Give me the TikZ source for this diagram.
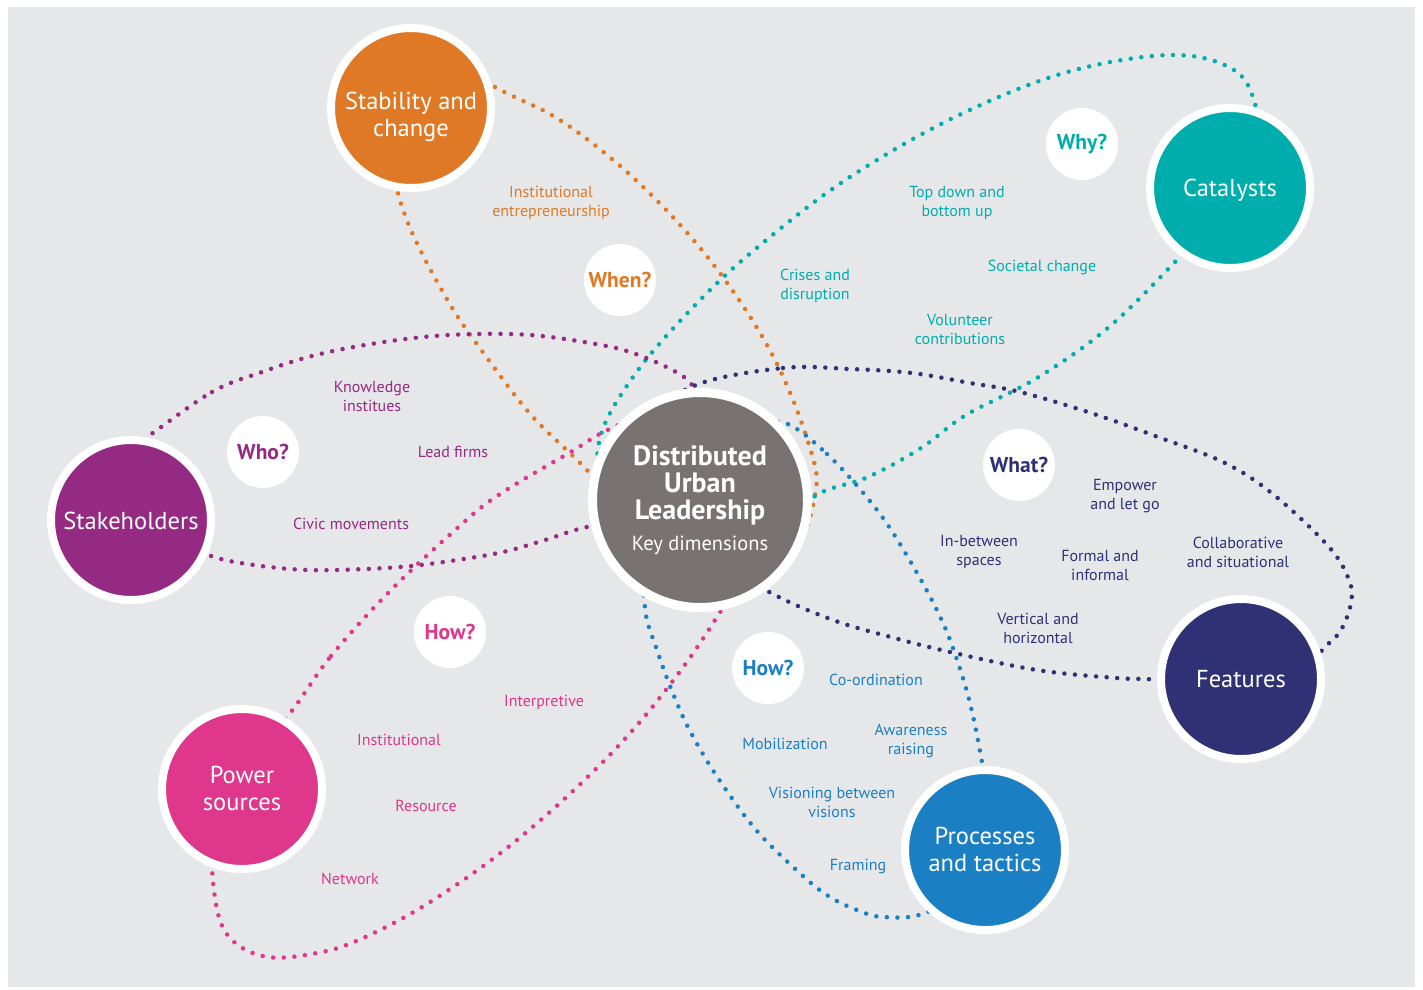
\documentclass[tikz,border=0pt]{standalone}
\usepackage{fontspec}
\setmainfont{PT Sans}
\definecolor{bgG}{HTML}{E6E7E9}
\definecolor{cOr}{HTML}{E07925}
\definecolor{cTe}{HTML}{00ADAD}
\definecolor{cPu}{HTML}{952A82}
\definecolor{cNa}{HTML}{303174}
\definecolor{cPi}{HTML}{DE378B}
\definecolor{cBl}{HTML}{1B7FC3}
\definecolor{cGr}{HTML}{787371}
\begin{document}
\begin{tikzpicture}[x=1pt,y=-1pt,
  dl/.style={line width=4.5pt, line cap=round, dash pattern=on 0pt off 10.6pt},
  big/.style={circle, draw=white, line width=8pt, minimum size=160pt, inner sep=0pt},
  bigtext/.style={text=white, font=\fontsize{24.5}{27}\selectfont, align=center, inner sep=0pt},
  qb/.style={circle, fill=white, minimum size=72pt, inner sep=0pt, font=\bfseries\fontsize{21.5}{24}\selectfont},
  lab/.style={font=\fontsize{16}{19}\selectfont, align=center, inner sep=0pt},
]
\useasboundingbox (0,0) rectangle (1423,989);
\fill[white] (0,0) rectangle (1423,989);
\fill[bgG] (8,7) rectangle (1415,987);

% loops
\draw[dl, cOr] plot[smooth cycle, tension=0.6] coordinates {(430,45) (495,87) (563,122) (640,184) (713,264) (773,356) (810,448) (815,495) (790,555) (720,580) (640,530) (585,468) (532,416) (485,355) (448,301) (408,223) (392,160) (395,90)};
\draw[dl, cTe] plot[smooth cycle, tension=0.6] coordinates {(1256,107) (1234,70) (1171,55) (1064,73) (953,118) (850,177) (770,237) (703,297) (633,377) (598,448) (615,520) (690,565) (770,540) (815,496) (868,477) (921,448) (966,415) (1037,378) (1109,327) (1179,258) (1225,210) (1262,160)};
\draw[dl, cPu] plot[smooth cycle, tension=0.6] coordinates {(147,437) (212,392) (262,372) (312,356) (365,345) (423,337) (476,334) (530,335) (584,342) (630,352) (676,372) (696,390) (720,430) (700,495) (640,520) (587,527) (545,540) (503,552) (457,560) (411,566) (365,569) (308,570) (254,565) (211,556) (165,535) (112,495) (118,455)};
\draw[dl, cNa] plot[smooth cycle, tension=0.6] coordinates {(696,385) (783,368) (850,369) (912,373) (970,383) (1020,392) (1091,413) (1158,437) (1225,463) (1274,495) (1329,547) (1349,580) (1351,603) (1341,630) (1325,647) (1280,690) (1200,690) (1157,680) (1116,678) (1037,670) (950,652) (887,636) (833,620) (773,594) (720,560) (660,480) (655,420)};
\draw[dl, cPi] plot[smooth cycle, tension=0.6] coordinates {(286,718) (331,656) (390,591) (454,531) (497,496) (569,453) (612,428) (670,410) (745,450) (760,540) (715,620) (672,682) (622,742) (561,802) (494,858) (422,907) (363,938) (322,952) (268,957) (230,938) (215,898) (214,830) (240,760)};
\draw[dl, cBl] plot[smooth cycle, tension=0.6] coordinates {(782,422) (827,454) (877,510) (913,566) (943,623) (962,675) (973,716) (982,762) (992,815) (975,880) (925,913) (883,917) (857,910) (830,897) (803,876) (757,831) (718,778) (690,731) (672,691) (657,650) (645,608) (650,555) (700,470) (750,437)};

% main circles
\node[big, fill=cOr] (stab) at (411,108) {};
\node[big, fill=cTe] (cat) at (1230,188) {};
\node[big, fill=cPu] (stake) at (131,520) {};
\node[big, fill=cNa] (feat) at (1241,679) {};
\node[big, fill=cPi] (pow) at (242,789) {};
\node[big, fill=cBl] (proc) at (985,850) {};
\node[bigtext] (stabt) at (411,117) {Stability and\\change};
\node[bigtext] (catt) at (1230,190) {Catalysts};
\node[bigtext] (staket) at (131,521) {Stakeholders};
\node[bigtext] (featt) at (1241,679) {Features};
\node[bigtext] (powt) at (242,788) {Power\\sources};
\node[bigtext] (proct) at (985,849) {Processes\\and tactics};
\node[circle, draw=white, line width=9pt, minimum size=215pt, inner sep=0pt, fill=cGr] (dul) at (700,500) {};
\node[text=white, font=\bfseries\fontsize{28}{27}\selectfont, align=center] (dult) at (700,485) {Distributed\\Urban\\Leadership};
\node[text=white, font=\fontsize{20.5}{22}\selectfont] (dulk) at (700,545) {Key dimensions};

% question bubbles
\node[qb, text=cTe] (why) at (1082,144) {Why?};
\node[qb, text=cOr] (when) at (620,280) {When?};
\node[qb, text=cPu] (who) at (263,452) {Who?};
\node[qb, text=cNa] (what) at (1019,465) {What?};
\node[qb, text=cPi] (howp) at (450,632) {How?};
\node[qb, text=cBl] (howb) at (768,668) {How?};

% labels
\node[lab, text=cOr] (l1) at (551,203) {Institutional\\entrepreneurship};
\node[lab, text=cTe] (l2) at (957,203) {Top down and\\bottom up};
\node[lab, text=cTe] (l3) at (1042,267) {Societal change};
\node[lab, text=cTe] (l4) at (815,286) {Crises and\\disruption};
\node[lab, text=cTe] (l5) at (960,329) {Volunteer\\contributions};
\node[lab, text=cPu] (l6) at (372,396) {Knowledge\\institues};
\node[lab, text=cPu] (l7) at (453,452) {Lead firms};
\node[lab, text=cPu] (l8) at (351,524) {Civic movements};
\node[lab, text=cNa] (l9) at (1125,496) {Empower\\and let go};
\node[lab, text=cNa] (l10) at (979,552) {In-between\\spaces};
\node[lab, text=cNa] (l11) at (1100,565) {Formal and\\informal};
\node[lab, text=cNa] (l12) at (1238,552) {Collaborative\\and situational};
\node[lab, text=cNa] (l13) at (1038,628) {Vertical and\\horizontal};
\node[lab, text=cPi] (l14) at (544,702) {Interpretive};
\node[lab, text=cPi] (l15) at (399,740) {Institutional};
\node[lab, text=cPi] (l16) at (426,806) {Resource};
\node[lab, text=cPi] (l17) at (350,879) {Network};
\node[lab, text=cBl] (l18) at (876,680) {Co-ordination};
\node[lab, text=cBl] (l19) at (911,741) {Awareness\\raising};
\node[lab, text=cBl] (l20) at (785,744) {Mobilization};
\node[lab, text=cBl] (l21) at (832,802) {Visioning between\\visions};
\node[lab, text=cBl] (l22) at (858,867) {Framing};
\end{tikzpicture}
\end{document}
